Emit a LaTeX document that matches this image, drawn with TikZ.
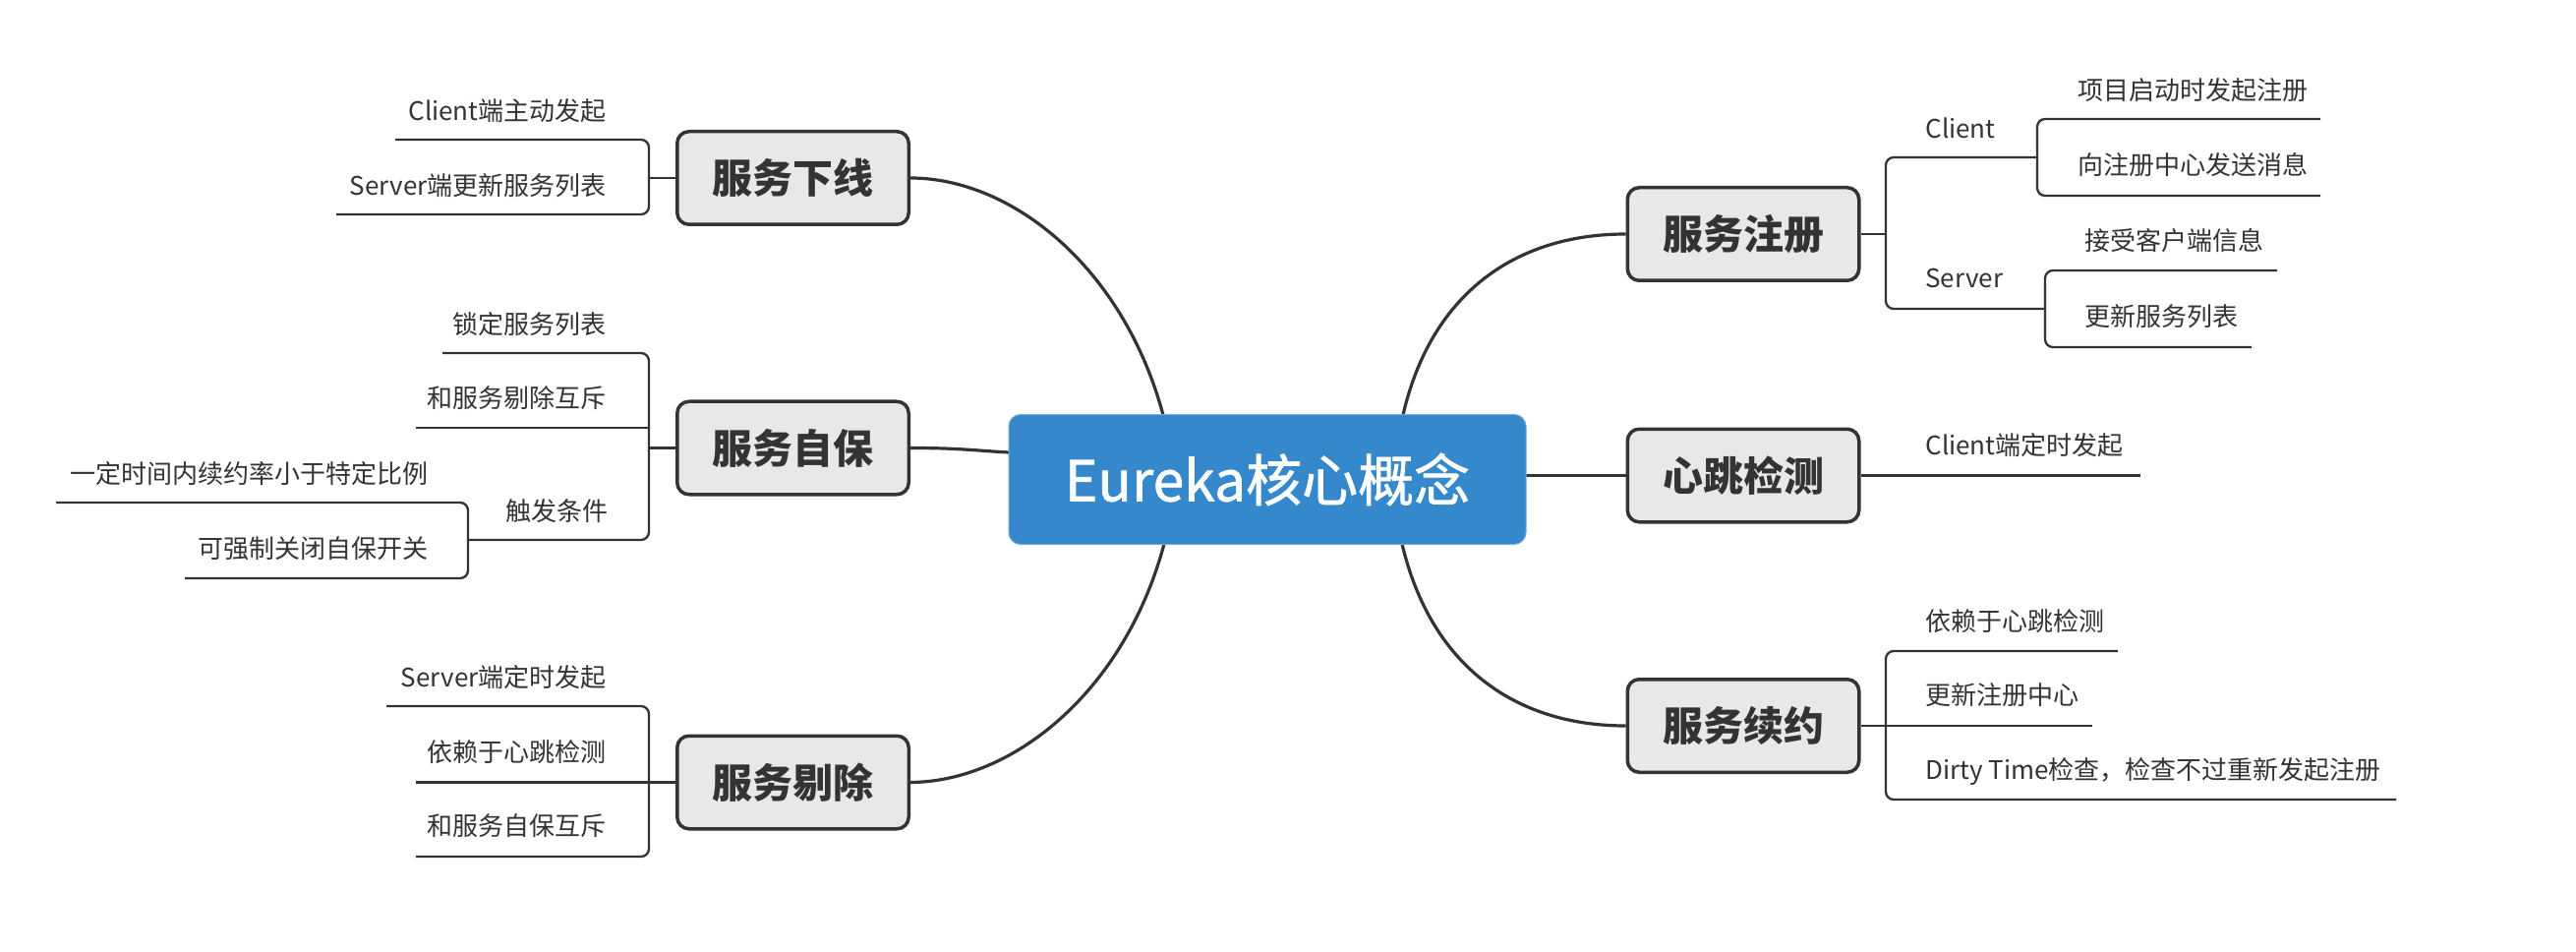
\documentclass[tikz,border=0pt]{standalone}
\usepackage{fontspec}
\setmainfont{Noto Sans CJK SC}
\newfontfamily\centerfont{Noto Sans CJK SC}[FakeBold=1.2]
\definecolor{ink}{HTML}{333333}
\definecolor{boxgray}{HTML}{E8E8E8}
\definecolor{centerblue}{HTML}{3588CC}
\begin{document}
\begin{tikzpicture}[x=0.5pt,y=-0.5pt,
  leaf/.style={font=\fontsize{13pt}{15pt}\selectfont, text=ink, inner sep=0pt},
  mainbox/.style={draw=ink, line width=1.75pt, fill=boxgray, rounded corners=6pt,
    minimum width=117.75pt, minimum height=47.25pt, inner sep=0pt,
    font=\fontsize{20.5pt}{24pt}\selectfont\bfseries, text=ink},
  centerbox/.style={fill=centerblue, draw=centerblue!70!white, line width=0.5pt,
    rounded corners=6pt, minimum width=263pt,
    minimum height=66pt, inner sep=0pt, font=\fontsize{28.5pt}{32pt}\centerfont, text=white},
  curve/.style={draw=ink, line width=1.6pt},
  leafline/.style={draw=ink, line width=1.15pt, rounded corners=4pt}]
\useasboundingbox (0,0) rectangle (2620,968);
\fill[white] (0,0) rectangle (2620,968);

% curve end points on the central topic
\coordinate (cul) at (1183,422);
\coordinate (cll) at (1184,553);
\coordinate (cur) at (1427,422);
\coordinate (clr) at (1426,553);
\coordinate (cml) at (1026,460);
\coordinate (cmr) at (1552,483.5);

% main topics
\node[mainbox] (xiaxian) at (806.5,181) {服务下线};
\node[mainbox] (zibao) at (806.5,455.5) {服务自保};
\node[mainbox] (tichu) at (806.5,795.5) {服务剔除};
\node[mainbox] (zhuce) at (1773,238) {服务注册};
\node[mainbox] (xintiao) at (1773,483.5) {心跳检测};
\node[mainbox] (xuyue) at (1773,738) {服务续约};

% curves
\draw[curve] (xiaxian.east) .. controls (1030,181) and (1143,273) .. (cul);
\draw[curve] (tichu.east) .. controls (1030,795) and (1144,703) .. (cll);
\draw[curve] (zibao.east) .. controls (975,455.5) and (990,458) .. (cml);
\draw[curve] (cur) .. controls (1455,300) and (1540,238) .. (zhuce.west);
\draw[curve] (clr) .. controls (1455,676) and (1540,738) .. (xuyue.west);
\draw[curve] (cmr) -- (xintiao.west);

\node[centerbox] (center) at (1289,487.5) {Eureka核心概念};

% ---------- 服务下线 ----------
\node[leaf, anchor=east] (xx1) at (617,113) {Client端主动发起};
\node[leaf, anchor=east] (xx2) at (617,189) {Server端更新服务列表};
\coordinate (bxx) at (660,181);
\draw[leafline] (402,142) -- (660,142) -- (660,218) -- (342,218);
\draw[leafline] (xiaxian.west) -- (bxx);

% ---------- 服务自保 ----------
\node[leaf, anchor=east] (zb1) at (617,330) {锁定服务列表};
\node[leaf, anchor=east] (zb2) at (617,405) {和服务剔除互斥};
\node[leaf, anchor=east] (zb3) at (619,520) {触发条件};
\node[leaf, anchor=east] (zb31) at (436,482) {一定时间内续约率小于特定比例};
\node[leaf, anchor=east] (zb32) at (436,558) {可强制关闭自保开关};
\coordinate (bzb) at (660,455.5);
\draw[leafline] (450,359) -- (660,359) -- (660,549) -- (476,549);
\draw[leafline] (423,435) -- (660,435);
\draw[leafline] (zibao.west) -- (bzb);
\draw[leafline] (57,511) -- (476,511) -- (476,588) -- (188,588);

% ---------- 服务剔除 ----------
\node[leaf, anchor=east] (tc1) at (617,689) {Server端定时发起};
\node[leaf, anchor=east] (tc2) at (617,765) {依赖于心跳检测};
\node[leaf, anchor=east] (tc3) at (617,840) {和服务自保互斥};
\coordinate (btc) at (660,795.5);
\draw[leafline] (393,718) -- (660,718) -- (660,871) -- (423,871);
\draw[leafline] (423,795.5) -- (660,795.5);
\draw[leafline] (tichu.west) -- (btc);

% ---------- 服务注册 ----------
\node[leaf, anchor=west] (zc1) at (1958,130) {Client};
\node[leaf, anchor=west] (zc2) at (1958,283) {Server};
\node[leaf, anchor=west] (zc11) at (2113,92) {项目启动时发起注册};
\node[leaf, anchor=west] (zc12) at (2113,168) {向注册中心发送消息};
\node[leaf, anchor=west] (zc21) at (2120,245) {接受客户端信息};
\node[leaf, anchor=west] (zc22) at (2120,322) {更新服务列表};
\coordinate (bzc) at (1918,238);
\draw[leafline] (zhuce.east) -- (bzc);
\draw[leafline] (2072,160) -- (1918,160) -- (1918,314) -- (2080,314);
\draw[leafline] (2360,121) -- (2072,121) -- (2072,199) -- (2360,199);
\draw[leafline] (2316,275) -- (2080,275) -- (2080,353) -- (2290,353);

% ---------- 心跳检测 ----------
\node[leaf, anchor=west] (xt1) at (1958,453) {Client端定时发起};
\coordinate (ext) at (2177,483.5);
\draw[leafline] (xintiao.east) -- (ext);

% ---------- 服务续约 ----------
\node[leaf, anchor=west] (xy1) at (1958,632) {依赖于心跳检测};
\node[leaf, anchor=west] (xy2) at (1958,707) {更新注册中心};
\node[leaf, anchor=west] (xy3) at (1958,785) {Dirty Time检查，检查不过重新发起注册};
\coordinate (exy) at (2128,738);
\draw[leafline] (xuyue.east) -- (exy);
\draw[leafline] (2154,662) -- (1918,662) -- (1918,813) -- (2437,813);
\end{tikzpicture}
\end{document}
